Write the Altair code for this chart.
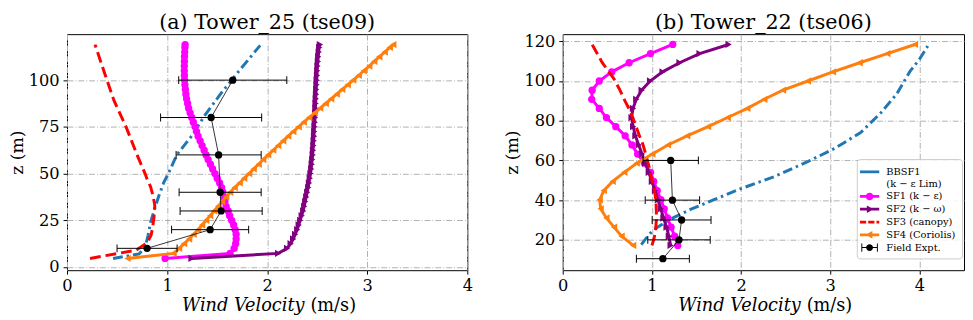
import altair as alt
import pandas as pd

FONT = "DejaVu Serif"

# ---------------- panel (a): Tower_25 (tse09) ----------------
z_a = [4.6, 7.3, 10, 12.5, 15, 17.5, 20, 22.5, 25, 27.5, 30, 32.5, 35, 37.5, 40, 42.5,
       45, 47.5, 50, 52.5, 55, 57.5, 60, 62.5, 65, 67.5, 70, 72.5, 75, 77.5, 80, 82.5,
       85, 87.5, 90, 92.5, 95, 97.5, 100, 102.5, 105, 107.5, 110, 112.5, 115, 117.5, 119]
sf1_a = [0.98, 1.63, 1.67, 1.685, 1.69, 1.69, 1.68, 1.665, 1.645, 1.625, 1.61, 1.59,
         1.578, 1.567, 1.557, 1.545, 1.525, 1.50, 1.478, 1.455, 1.433, 1.41, 1.39, 1.37,
         1.35, 1.33, 1.31, 1.295, 1.28, 1.262, 1.246, 1.23, 1.215, 1.205, 1.195, 1.188,
         1.183, 1.178, 1.175, 1.173, 1.172, 1.172, 1.173, 1.174, 1.176, 1.178, 1.18]
sf2_a = [1.244, 2.11, 2.20, 2.235, 2.26, 2.28, 2.30, 2.315, 2.33, 2.345, 2.36, 2.37,
         2.38, 2.39, 2.40, 2.41, 2.418, 2.426, 2.433, 2.44, 2.445, 2.45, 2.455, 2.458,
         2.462, 2.465, 2.468, 2.47, 2.473, 2.476, 2.478, 2.48, 2.482, 2.484, 2.486, 2.488,
         2.49, 2.493, 2.495, 2.498, 2.50, 2.503, 2.507, 2.51, 2.515, 2.52, 2.527]
sf4_a = [0.605, 1.065, 1.12, 1.17, 1.22, 1.265, 1.31, 1.35, 1.39, 1.43, 1.47, 1.51,
         1.55, 1.59, 1.63, 1.675, 1.725, 1.77, 1.82, 1.865, 1.915, 1.96, 2.01, 2.06,
         2.11, 2.16, 2.21, 2.26, 2.315, 2.365, 2.42, 2.475, 2.53, 2.585, 2.64, 2.695,
         2.75, 2.805, 2.86, 2.915, 2.965, 3.02, 3.07, 3.12, 3.175, 3.225, 3.26]
z_bb_a = [4.6, 7, 10.5, 17, 24, 31, 38, 45, 52, 60, 70, 81, 93, 106, 118.6]
bb_a = [0.46, 0.72, 0.78, 0.81, 0.835, 0.875, 0.917, 0.965, 1.03, 1.096, 1.244, 1.375,
        1.54, 1.735, 1.93]
z_sf3_a = [4.6, 9, 13, 17, 21, 27, 33, 38, 43, 47, 50, 60, 75, 89, 103, 119]
sf3_a = [0.23, 0.69, 0.80, 0.84, 0.855, 0.87, 0.877, 0.86, 0.835, 0.80, 0.78, 0.70,
         0.59, 0.47, 0.38, 0.28]
z_ex_a = [10, 20, 30, 40, 60, 80, 100]
ex_a = [0.80, 1.43, 1.54, 1.53, 1.515, 1.44, 1.656]
err_a = [0.30, 0.385, 0.41, 0.41, 0.425, 0.505, 0.54]

# ---------------- panel (b): Tower_22 (tse06) ----------------
z_b = [17.2, 21.8, 26.4, 31.0, 35.6, 40.2, 44.8, 49.4, 54.0, 58.6, 63.2, 67.8, 72.4,
       77.0, 81.6, 86.2, 90.8, 95.4, 100.0, 104.6, 109.2, 113.8, 118.4]
sf1_b = [1.29, 1.255, 1.215, 1.175, 1.138, 1.10, 1.06, 1.02, 0.985, 0.915, 0.84, 0.776,
         0.70, 0.595, 0.49, 0.41, 0.325, 0.33, 0.41, 0.55, 0.745, 0.984, 1.234]
sf2_b = [1.21, 1.19, 1.165, 1.13, 1.10, 1.068, 1.035, 1.00, 0.965, 0.925, 0.89, 0.852,
         0.815, 0.79, 0.772, 0.788, 0.825, 0.885, 0.98, 1.12, 1.31, 1.535, 1.86]
sf4_b = [0.79, 0.66, 0.575, 0.49, 0.425, 0.415, 0.46, 0.56, 0.69, 0.83, 1.005, 1.18,
         1.395, 1.63, 1.85, 2.07, 2.26, 2.47, 2.75, 3.03, 3.33, 3.64, 3.95]
z_bb_b = [17.6, 20.5, 24.8, 30.5, 35.3, 40.1, 45.8, 51.8, 59.5, 66, 74, 83.7, 93.4,
          104.7, 111.1, 117.6]
bb_b = [0.881, 0.93, 1.01, 1.211, 1.432, 1.69, 2.00, 2.37, 2.753, 3.047, 3.341, 3.562,
        3.744, 3.892, 4.002, 4.093]
z_sf3_b = [17.2, 20, 24, 30, 34, 40, 45, 50, 56, 62, 68, 73, 79, 85, 90, 96, 101.5,
           105, 109.5, 114, 118.4]
sf3_b = [1.0, 1.02, 1.04, 1.05, 1.05, 1.045, 1.028, 1.0, 0.973, 0.937, 0.90, 0.855,
         0.808, 0.755, 0.698, 0.635, 0.569, 0.51, 0.44, 0.385, 0.33]
z_ex_b = [10.5, 20, 30, 40, 60]
ex_b = [1.123, 1.304, 1.333, 1.23, 1.211]
err_b = [0.297, 0.35, 0.33, 0.305, 0.31]

x_ticks = [0, 1, 2, 3, 4]
y_ticks_a = [0, 25, 50, 75, 100]
y_ticks_b = [20, 40, 60, 80, 100, 120]

series_names = ["BBSF1", "SF1 (k − ε)", "SF2 (k − ω)", "SF3 (canopy)",
                "SF4 (Coriolis)", "Field Expt."]
series_colors = ["#1f77b4", "#ff00ff", "#800080", "#ff0000", "#ff7f0e", "#000000"]

# legend glyphs (unit square -1..1, drawn filled)
legend_paths = [
    "M-1.4,-0.2H1.4V0.2H-1.4Z",
    "M-1.4,-0.2H1.4V0.2H-1.4Z M-0.55,0A0.55,0.55,0,1,1,0.55,0A0.55,0.55,0,1,1,-0.55,0Z",
    "M-1.4,-0.2H1.4V0.2H-1.4Z M-0.4,-0.55L0.6,0L-0.4,0.55Z",
    "M-1.4,-0.2H-0.5V0.2H-1.4Z M-0.2,-0.2H0.7V0.2H-0.2Z M1.0,-0.2H1.4V0.2H1.0Z",
    "M-1.4,-0.2H1.4V0.2H-1.4Z M0.4,0.55L-0.6,0L0.4,-0.55Z",
    "M-1.2,-0.07H1.2V0.07H-1.2Z M-1.2,-0.6H-1.06V0.6H-1.2Z M1.06,-0.6H1.2V0.6H1.06Z "
    "M-0.5,0A0.5,0.5,0,1,1,0.5,0A0.5,0.5,0,1,1,-0.5,0Z",
]


def frame(z, u):
    return pd.DataFrame({"z": z, "u": u, "i": list(range(len(z)))})


def panel(title, xdom, ydom, yticks, W, H, bb, sf1, sf2, sf3, sf4, ex, with_legend):
    def X(field="u"):
        return alt.X(f"{field}:Q",
                     scale=alt.Scale(domain=xdom, nice=False, zero=False),
                     axis=alt.Axis(values=x_ticks, format="d", title=None))

    Y = alt.Y("z:Q", scale=alt.Scale(domain=ydom, nice=False, zero=False),
              axis=alt.Axis(values=yticks, format="d", title="z (m)"))

    L = []
    L.append(alt.Chart(bb).mark_line(color=series_colors[0], strokeWidth=3,
                                     strokeDash=[10, 4, 2.5, 4], clip=True)
             .encode(x=X(), y=Y, order="i:Q"))
    L.append(alt.Chart(sf1).mark_line(color=series_colors[1], strokeWidth=3, clip=True)
             .encode(x=X(), y=Y, order="i:Q"))
    L.append(alt.Chart(sf1).mark_point(filled=True, opacity=1, color=series_colors[1],
                                       shape="circle", size=55, clip=True)
             .encode(x=X(), y=Y))
    L.append(alt.Chart(sf2).mark_line(color=series_colors[2], strokeWidth=3, clip=True)
             .encode(x=X(), y=Y, order="i:Q"))
    L.append(alt.Chart(sf2).mark_point(filled=True, opacity=1, color=series_colors[2],
                                       shape="triangle-right", size=55, clip=True)
             .encode(x=X(), y=Y))
    L.append(alt.Chart(sf3).mark_line(color=series_colors[3], strokeWidth=3,
                                      strokeDash=[11, 5], clip=True)
             .encode(x=X(), y=Y, order="i:Q"))
    L.append(alt.Chart(sf4).mark_line(color=series_colors[4], strokeWidth=3, clip=True)
             .encode(x=X(), y=Y, order="i:Q"))
    L.append(alt.Chart(sf4).mark_point(filled=True, opacity=1, color=series_colors[4],
                                       shape="triangle-left", size=55, clip=True)
             .encode(x=X(), y=Y))
    # field experiment with error bars
    L.append(alt.Chart(ex).mark_rule(color="black", strokeWidth=1)
             .encode(x=X("lo"), x2="hi:Q", y=Y))
    L.append(alt.Chart(ex).mark_tick(color="black", orient="vertical", size=8,
                                     thickness=1, opacity=1)
             .encode(x=X("lo"), y=Y))
    L.append(alt.Chart(ex).mark_tick(color="black", orient="vertical", size=8,
                                     thickness=1, opacity=1)
             .encode(x=X("hi"), y=Y))
    L.append(alt.Chart(ex).mark_line(color="black", strokeWidth=0.8)
             .encode(x=X(), y=Y, order="i:Q"))
    L.append(alt.Chart(ex).mark_point(filled=True, opacity=1, color="black",
                                      shape="circle", size=55)
             .encode(x=X(), y=Y))
    # x-axis title: italic quantity + upright unit
    L.append(alt.Chart(pd.DataFrame({"t": ["Wind Velocity"]}))
             .mark_text(font=FONT, fontSize=18, fontStyle="italic", align="right",
                        baseline="alphabetic", color="black")
             .encode(x=alt.value(W / 2 + 38), y=alt.value(H + 41), text="t:N"))
    L.append(alt.Chart(pd.DataFrame({"t": ["(m/s)"]}))
             .mark_text(font=FONT, fontSize=18, align="left",
                        baseline="alphabetic", color="black")
             .encode(x=alt.value(W / 2 + 44), y=alt.value(H + 41), text="t:N"))
    if with_legend:
        leg = alt.Legend(
            title=None, orient="none", legendX=299, legendY=127,
            labelFont=FONT, labelFontSize=10, labelColor="black",
            symbolSize=196, symbolStrokeWidth=0, symbolOpacity=1,
            rowPadding=1, padding=6, labelOffset=10,
            fillColor="rgba(255,255,255,0.85)", strokeColor="#cccccc", cornerRadius=3,
            labelExpr="datum.label == 'BBSF1' ? ['BBSF1', '  (k − ε Lim)'] : datum.label",
        )
        L.append(alt.Chart(pd.DataFrame({"series": series_names}))
                 .mark_point(filled=True, opacity=1, size=196)
                 .encode(color=alt.Color("series:N",
                                         scale=alt.Scale(domain=series_names,
                                                         range=series_colors),
                                         legend=leg),
                         shape=alt.Shape("series:N",
                                         scale=alt.Scale(domain=series_names,
                                                         range=legend_paths),
                                         legend=leg))
                 .transform_filter("false"))
    return alt.layer(*L).properties(width=W, height=H, title=title)


def ex_frame(z, u, e):
    df = frame(z, u)
    df["lo"] = [a - b for a, b in zip(u, e)]
    df["hi"] = [a + b for a, b in zip(u, e)]
    return df


H = 240
pa = panel("(a) Tower_25 (tse09)", [0, 4], [-1.7, 124.6], y_ticks_a, 407, H,
           frame(z_bb_a, bb_a), frame(z_a, sf1_a), frame(z_a, sf2_a),
           frame(z_sf3_a, sf3_a), frame(z_a, sf4_a), ex_frame(z_ex_a, ex_a, err_a),
           False)
pb = panel("(b) Tower_22 (tse06)", [0, 4.5], [4.7, 123.6], y_ticks_b, 408, H,
           frame(z_bb_b, bb_b), frame(z_b, sf1_b), frame(z_b, sf2_b),
           frame(z_sf3_b, sf3_b), frame(z_b, sf4_b), ex_frame(z_ex_b, ex_b, err_b),
           True)

chart = (
    alt.hconcat(pa, pb, spacing=31)
    .resolve_scale(color="independent", shape="independent")
    .properties(padding={"left": 0, "top": 0, "right": 0, "bottom": 0})
    .configure_view(stroke="black", strokeWidth=1)
    .configure_axis(
        grid=True, gridColor="#b0b0b0", gridDash=[6, 2, 1, 2], gridWidth=1,
        domain=False, ticks=True, tickColor="black", tickSize=4, tickWidth=1,
        labelFont=FONT, labelFontSize=16.5, labelColor="black", labelPadding=4,
        labelFlush=False, labelOverlap=False,
        titleFont=FONT, titleFontSize=17.5, titleFontWeight="normal",
        titleColor="black", titlePadding=2,
    )
    .configure_title(font=FONT, fontSize=21, fontWeight="normal", color="black",
                     offset=1, anchor="middle")
    .configure_text(font=FONT)
    .configure_legend(labelFont=FONT)
)

chart.save("out.html", embed_options={"renderer": "svg", "actions": False})
